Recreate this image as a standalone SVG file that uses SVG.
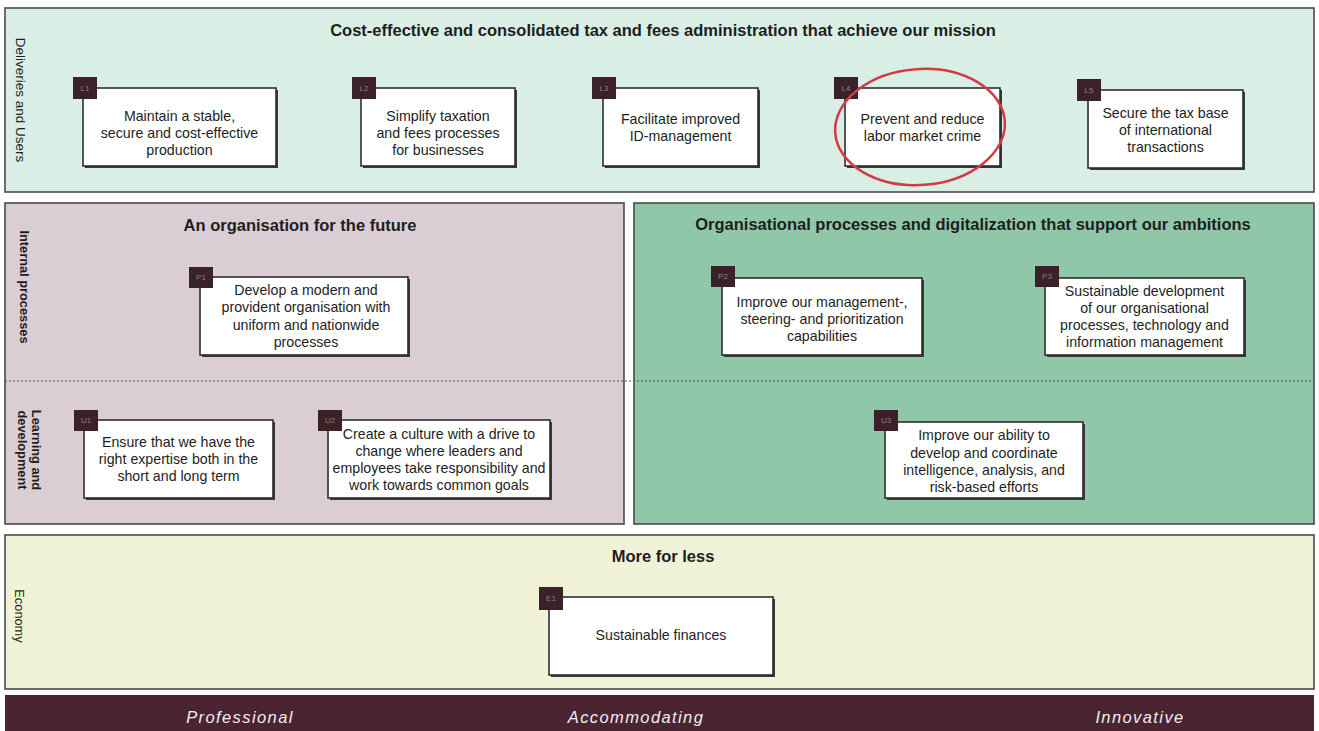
<svg xmlns="http://www.w3.org/2000/svg" width="1319" height="731" viewBox="0 0 1319 731">
  <defs>
    <style>
      .panel { stroke: #4a4a4a; stroke-width: 1.6; }
      .box { fill: #ffffff; stroke: #2e2e2e; stroke-width: 1.6; }
      .shadow { fill: #3a3a3a; }
      .tag { fill: #3b2129; }
      .tagtxt { font-family: "Liberation Sans", Arial, sans-serif; font-size: 8px; fill: #8f7f86; text-anchor: middle; }
      .title { font-family: "Liberation Sans", Arial, sans-serif; font-size: 16.5px; font-weight: bold; fill: #1e1e1e; text-anchor: middle; }
      .txt { font-family: "Liberation Sans", Arial, sans-serif; font-size: 14.2px; fill: #1e1e1e; text-anchor: middle; }
      .side { font-family: "Liberation Sans", Arial, sans-serif; font-size: 13.5px; fill: #1e1e1e; text-anchor: middle; }
      .sideb { font-family: "Liberation Sans", Arial, sans-serif; font-size: 12.8px; font-weight: bold; fill: #1e1e1e; text-anchor: middle; }
      .value { font-family: "Liberation Sans", Arial, sans-serif; font-size: 16.5px; font-style: italic; letter-spacing: 1.4px; fill: #f2eef0; text-anchor: middle; }
      .divider { stroke: #555; stroke-width: 1.2; stroke-dasharray: 2 2; fill: none; }
    </style>
  </defs>

  <rect x="0" y="0" width="1319" height="731" fill="#ffffff"/>

  <!-- Perspective bands -->
  <g id="band-deliveries">
    <rect class="panel" x="5" y="8" width="1309" height="184" fill="#d9eee5"/>
    <text class="title" x="663" y="36">Cost-effective and consolidated tax and fees administration that achieve our mission</text>
    <text class="side" transform="translate(16,100) rotate(90)">Deliveries and Users</text>
  </g>

  <g id="band-organisation">
    <rect class="panel" x="5" y="203" width="619" height="321" fill="#dacdd3"/>
    <text class="title" x="300" y="231">An organisation for the future</text>
    <text class="sideb" transform="translate(20,287) rotate(90)">Internal processes</text>
    <text class="sideb" transform="translate(32,450) rotate(90)"><tspan x="0" y="0">Learning and</tspan><tspan x="0" y="14">development</tspan></text>
  </g>

  <g id="band-digitalization">
    <rect class="panel" x="634" y="203" width="680" height="321" fill="#90c7a9"/>
    <text class="title" x="973" y="230">Organisational processes and digitalization that support our ambitions</text>
  </g>

  <g id="band-economy">
    <rect class="panel" x="5" y="535" width="1309" height="154" fill="#f0f3d7"/>
    <text class="title" x="663" y="562">More for less</text>
    <text class="sideb" style="font-weight:normal" transform="translate(15,616) rotate(90)">Economy</text>
  </g>

  <g id="values-bar">
    <rect x="5" y="695" width="1309" height="36" fill="#4a2431"/>
    <text class="value" x="240" y="723">Professional</text>
    <text class="value" x="636" y="723">Accommodating</text>
    <text class="value" x="1140" y="723">Innovative</text>
  </g>

  <!-- Connectors: dotted divider between internal processes and learning -->
  <g id="connectors">
    <line class="divider" x1="5" y1="381" x2="1314" y2="381"/>
  </g>

  <!-- Goal nodes -->
  <g id="L1">
    <rect class="shadow" x="85" y="90" width="193" height="78"/>
    <rect class="box" x="83" y="88" width="193" height="78"/>
    <rect class="tag" x="73" y="77" width="24" height="22"/>
    <text class="tagtxt" x="85" y="91">L1</text>
    <text class="txt" x="179.5" y="121">Maintain a stable,</text>
    <text class="txt" x="179.5" y="138">secure and cost-effective</text>
    <text class="txt" x="179.5" y="155">production</text>
  </g>

  <g id="L2">
    <rect class="shadow" x="363" y="90" width="154" height="78"/>
    <rect class="box" x="361" y="88" width="154" height="78"/>
    <rect class="tag" x="352" y="77" width="24" height="22"/>
    <text class="tagtxt" x="364" y="91">L2</text>
    <text class="txt" x="438" y="121">Simplify taxation</text>
    <text class="txt" x="438" y="138">and fees processes</text>
    <text class="txt" x="438" y="155">for businesses</text>
  </g>

  <g id="L3">
    <rect class="shadow" x="605" y="90" width="155" height="78"/>
    <rect class="box" x="603" y="88" width="155" height="78"/>
    <rect class="tag" x="592" y="77" width="24" height="22"/>
    <text class="tagtxt" x="604" y="91">L3</text>
    <text class="txt" x="680.5" y="124">Facilitate improved</text>
    <text class="txt" x="680.5" y="141">ID-management</text>
  </g>

  <g id="L4">
    <rect class="shadow" x="847" y="90" width="155" height="78"/>
    <rect class="box" x="845" y="88" width="155" height="78"/>
    <rect class="tag" x="834" y="77" width="24" height="22"/>
    <text class="tagtxt" x="846" y="91">L4</text>
    <text class="txt" x="922.5" y="124">Prevent and reduce</text>
    <text class="txt" x="922.5" y="141">labor market crime</text>
    <ellipse cx="920" cy="127" rx="85" ry="58" fill="none" stroke="#d23a44" stroke-width="2.5" transform="rotate(-4 920 127)"/>
  </g>

  <g id="L5">
    <rect class="shadow" x="1090" y="92" width="155" height="78"/>
    <rect class="box" x="1088" y="90" width="155" height="78"/>
    <rect class="tag" x="1077" y="79" width="24" height="22"/>
    <text class="tagtxt" x="1089" y="93">L5</text>
    <text class="txt" x="1165.5" y="118">Secure the tax base</text>
    <text class="txt" x="1165.5" y="135">of international</text>
    <text class="txt" x="1165.5" y="152">transactions</text>
  </g>

  <g id="P1">
    <rect class="shadow" x="202" y="279" width="208" height="78"/>
    <rect class="box" x="200" y="277" width="208" height="78"/>
    <rect class="tag" x="189" y="267" width="24" height="21"/>
    <text class="tagtxt" x="201" y="280">P1</text>
    <text class="txt" x="306" y="295">Develop a modern and</text>
    <text class="txt" x="306" y="312">provident organisation with</text>
    <text class="txt" x="306" y="330">uniform and nationwide</text>
    <text class="txt" x="306" y="347">processes</text>
  </g>

  <g id="P2">
    <rect class="shadow" x="724" y="280" width="200" height="77"/>
    <rect class="box" x="722" y="278" width="200" height="77"/>
    <rect class="tag" x="711" y="266" width="24" height="21"/>
    <text class="tagtxt" x="723" y="279">P2</text>
    <text class="txt" x="822" y="307">Improve our management-,</text>
    <text class="txt" x="822" y="324">steering- and prioritization</text>
    <text class="txt" x="822" y="341">capabilities</text>
  </g>

  <g id="P3">
    <rect class="shadow" x="1047" y="280" width="199" height="77"/>
    <rect class="box" x="1045" y="278" width="199" height="77"/>
    <rect class="tag" x="1035" y="266" width="24" height="21"/>
    <text class="tagtxt" x="1047" y="279">P3</text>
    <text class="txt" x="1144.5" y="296">Sustainable development</text>
    <text class="txt" x="1144.5" y="313">of our organisational</text>
    <text class="txt" x="1144.5" y="330">processes, technology and</text>
    <text class="txt" x="1144.5" y="347">information management</text>
  </g>

  <g id="U1">
    <rect class="shadow" x="86" y="422" width="189" height="78"/>
    <rect class="box" x="84" y="420" width="189" height="78"/>
    <rect class="tag" x="74" y="410" width="24" height="21"/>
    <text class="tagtxt" x="86" y="423">U1</text>
    <text class="txt" x="178.5" y="447">Ensure that we have the</text>
    <text class="txt" x="178.5" y="464">right expertise both in the</text>
    <text class="txt" x="178.5" y="481">short and long term</text>
  </g>

  <g id="U2">
    <rect class="shadow" x="330" y="422" width="222" height="78"/>
    <rect class="box" x="328" y="420" width="222" height="78"/>
    <rect class="tag" x="318" y="410" width="24" height="21"/>
    <text class="tagtxt" x="330" y="423">U2</text>
    <text class="txt" x="439" y="439">Create a culture with a drive to</text>
    <text class="txt" x="439" y="456">change where leaders and</text>
    <text class="txt" x="439" y="473">employees take responsibility and</text>
    <text class="txt" x="439" y="490">work towards common goals</text>
  </g>

  <g id="U3">
    <rect class="shadow" x="887" y="424" width="198" height="76"/>
    <rect class="box" x="885" y="422" width="198" height="76"/>
    <rect class="tag" x="874" y="410" width="24" height="21"/>
    <text class="tagtxt" x="886" y="423">U3</text>
    <text class="txt" x="984" y="440">Improve our ability to</text>
    <text class="txt" x="984" y="458">develop and coordinate</text>
    <text class="txt" x="984" y="475">intelligence, analysis, and</text>
    <text class="txt" x="984" y="492">risk-based efforts</text>
  </g>

  <g id="E1">
    <rect class="shadow" x="551" y="599" width="224" height="78"/>
    <rect class="box" x="549" y="597" width="224" height="78"/>
    <rect class="tag" x="539" y="587" width="24" height="23"/>
    <text class="tagtxt" x="551" y="601">E1</text>
    <text class="txt" x="661" y="640">Sustainable finances</text>
  </g>
</svg>
